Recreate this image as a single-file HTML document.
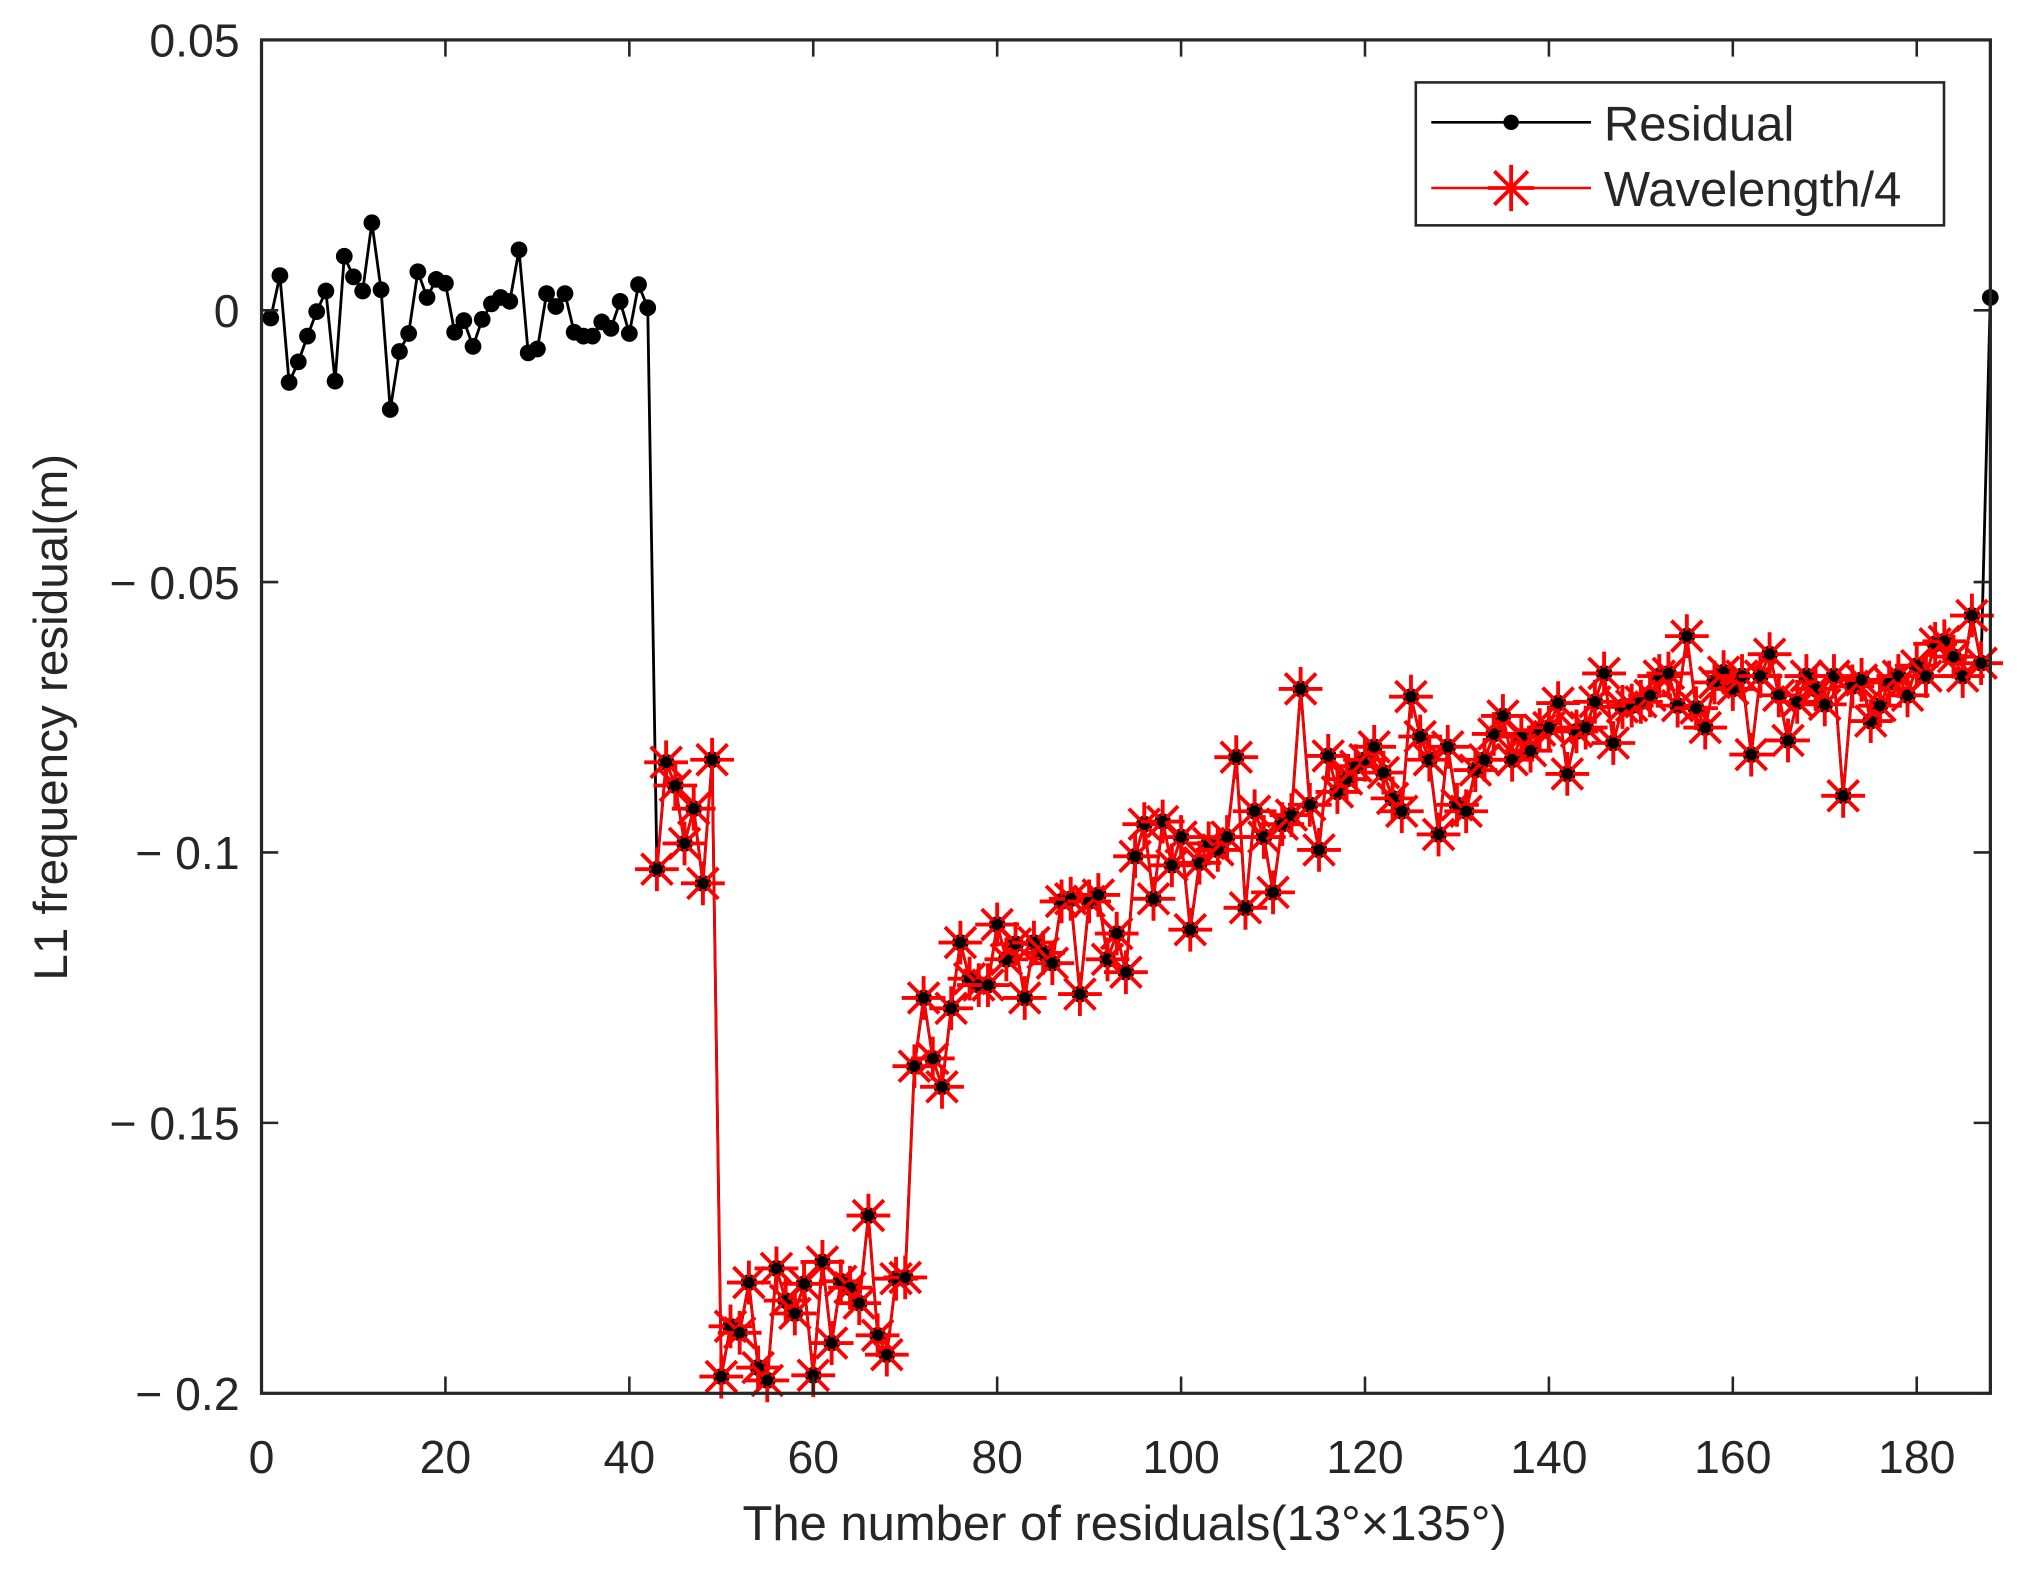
<!DOCTYPE html>
<html><head><meta charset="utf-8"><style>
html,body{margin:0;padding:0;background:#fff;}
svg{display:block;}
text{font-family:"Liberation Sans",Arial,sans-serif;fill:#262626;}
</style></head><body>
<svg id="s" width="2020" height="1571" viewBox="0 0 1568 1220" preserveAspectRatio="none" xmlns="http://www.w3.org/2000/svg">
<rect x="0" y="0" width="1568" height="1220" fill="#fff"/>
<g id="plot"></g>
<rect x="203" y="31" width="1342" height="1051" fill="none" stroke="#262626" stroke-width="2.5"/>
<g id="ticks" stroke="#262626" stroke-width="2"></g>
<g font-size="36" text-anchor="end">
<text x="186" y="44">0.05</text>
<text x="186" y="254">0</text>
<text x="186" y="465">− 0.05</text>
<text x="186" y="675">− 0.1</text>
<text x="186" y="885">− 0.15</text>
<text x="186" y="1095">− 0.2</text>
</g>
<g id="xl" font-size="36" text-anchor="middle"></g>
<text x="873" y="1196" font-size="38" text-anchor="middle">The number of residuals(13°×135°)</text>
<text transform="translate(52,557) rotate(-90)" font-size="37" text-anchor="middle">L1 frequency residual(m)</text>
<rect x="1099" y="64" width="410" height="111" fill="#fff" stroke="#262626" stroke-width="2"/>
<line x1="1111" y1="95" x2="1235" y2="95" stroke="#000" stroke-width="2"/>
<circle cx="1173" cy="95" r="6" fill="#000"/>
<line x1="1111" y1="146" x2="1235" y2="146" stroke="red" stroke-width="2"/>
<g stroke="red" stroke-width="3"><line x1="1155" y1="146" x2="1191" y2="146"/><line x1="1173" y1="128" x2="1173" y2="164"/><line x1="1160" y1="133" x2="1186" y2="159"/><line x1="1160" y1="159" x2="1186" y2="133"/></g>
<text x="1245" y="109" font-size="38">Residual</text>
<text x="1245" y="160" font-size="38">Wavelength/4</text>
</svg>
<script>
var NS="http://www.w3.org/2000/svg";
function X(i){return 203+i*7.138;}
var blk=[247,214,297,281,261,242,226,296,199,215,226,173,225,318,273,259,211,231,217,220,258,249,269,248,236,231,234,194,274,271,228,238,228,258,261,261,250,255,234,259,221,239];
var red=[675,592,610,655,628,686,590,1069,1030,1035,996,1062,1072,985,1010,1020,997,1068,980,1043,995,1000,1012,944,1037,1052,993,992,828,775,822,844,783,732,760,765,765,718,745,733,775,732,740,748,700,698,772,700,695,745,725,755,665,640,698,638,672,650,722,670,655,660,650,588,705,630,650,693,640,633,535,625,660,587,615,605,595,590,580,600,620,630,541,572,590,648,580,625,630,598,590,570,556,590,572,583,567,565,546,601,568,565,545,523,577,549,548,545,540,525,523,548,494,550,565,530,522,535,525,586,525,508,540,575,545,525,535,547,525,618,533,528,560,548,530,525,540,517,525,500,498,510,525,478,515];
var g=document.getElementById("plot");
function el(n,a){var e=document.createElementNS(NS,n);for(var k in a)e.setAttribute(k,a[k]);g.appendChild(e);return e;}
var bp=[];for(var i=0;i<blk.length;i++)bp.push([X(i+1),blk[i]]);
var rp=[];for(var i=0;i<red.length;i++)rp.push([X(43+i),red[i]]);
var all=bp.concat(rp).concat([[X(188),231]]);
el("polyline",{points:all.map(function(p){return p.join(",")}).join(" "),fill:"none",stroke:"#000","stroke-width":2.2});
all.forEach(function(p){el("circle",{cx:p[0],cy:p[1],r:6.5,fill:"#000"});});
el("polyline",{points:rp.map(function(p){return p.join(",")}).join(" "),fill:"none",stroke:"red","stroke-width":2});
rp.forEach(function(p){var x=p[0],y=p[1],r=17,d=12;
el("path",{d:"M"+(x-r)+","+y+"H"+(x+r)+"M"+x+","+(y-r)+"V"+(y+r)+"M"+(x-d)+","+(y-d)+"L"+(x+d)+","+(y+d)+"M"+(x-d)+","+(y+d)+"L"+(x+d)+","+(y-d),stroke:"red","stroke-width":3,fill:"none"});
el("circle",{cx:x,cy:y,r:4.5,fill:"#000"});});
var t=document.getElementById("ticks"),xl=document.getElementById("xl");
for(var v=0;v<=180;v+=20){var x=X(v);
var a=document.createElementNS(NS,"path");a.setAttribute("d","M"+x+",1082V1069M"+x+",31V44");t.appendChild(a);
var tx=document.createElementNS(NS,"text");tx.setAttribute("x",x);tx.setAttribute("y",1144);tx.textContent=v;xl.appendChild(tx);}
[31,241,452,662,872,1082].forEach(function(y){var a=document.createElementNS(NS,"path");a.setAttribute("d","M203,"+y+"H216M1545,"+y+"H1532");t.appendChild(a);});
</script>
</body></html>
